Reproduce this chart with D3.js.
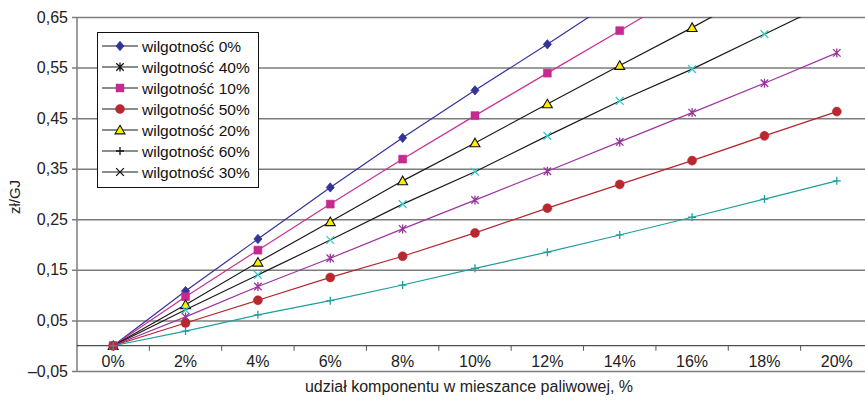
<!DOCTYPE html>
<html>
<head>
<meta charset="utf-8">
<script src="https://cdn.jsdelivr.net/npm/d3@7"></script>
<style>
  html, body { margin: 0; padding: 0; background: #fff; }
  svg { display: block; font-family: "Liberation Sans", Arial, sans-serif; }
</style>
</head>
<body>
<svg id="chart" width="865" height="401"></svg>
<script>
// Category axis: share of the component in the fuel blend
const categories = ["0%", "2%", "4%", "6%", "8%", "10%", "12%", "14%", "16%", "18%", "20%"];
const yTicks = [-0.05, 0.05, 0.15, 0.25, 0.35, 0.45, 0.55, 0.65];

// Cost increase (zł/GJ) for each moisture content of the component
const w0  = [0, 0.108, 0.211, 0.313, 0.411, 0.505, 0.596, 0.690, 0.785, 0.880, 0.975];
const w10 = [0, 0.097, 0.189, 0.280, 0.369, 0.455, 0.539, 0.623, 0.707, 0.790, 0.870];
const w20 = [0, 0.081, 0.165, 0.245, 0.326, 0.401, 0.478, 0.554, 0.629, 0.707, 0.782];
const w30 = [0, 0.071, 0.140, 0.209, 0.280, 0.344, 0.415, 0.484, 0.547, 0.616, 0.685];
const w40 = [0, 0.057, 0.117, 0.173, 0.231, 0.288, 0.345, 0.403, 0.461, 0.519, 0.579];
const w50 = [0, 0.045, 0.090, 0.135, 0.177, 0.223, 0.272, 0.319, 0.366, 0.415, 0.463];
const w60 = [0, 0.029, 0.061, 0.089, 0.120, 0.153, 0.185, 0.219, 0.254, 0.290, 0.326];

const seriesNames = ["wilgotność 0%", "wilgotność 10%", "wilgotność 20%", "wilgotność 30%",
                     "wilgotność 40%", "wilgotność 50%", "wilgotność 60%"];
const legendOrder = ["wilgotność 0%", "wilgotność 40%", "wilgotność 10%", "wilgotność 50%",
                     "wilgotność 20%", "wilgotność 60%", "wilgotność 30%"];
const seriesValues = [w0, w10, w20, w30, w40, w50, w60];

// Stroked marker shapes
const symPlus = { draw(ctx, size) { const r = Math.sqrt(size) / 2;
  ctx.moveTo(-r, 0); ctx.lineTo(r, 0); ctx.moveTo(0, -r); ctx.lineTo(0, r); } };
const symX = { draw(ctx, size) { const r = Math.sqrt(size) / 2;
  ctx.moveTo(-r, -r); ctx.lineTo(r, r); ctx.moveTo(-r, r); ctx.lineTo(r, -r); } };
const symStar = { draw(ctx, size) { const r = Math.sqrt(size) / 2;
  ctx.moveTo(-r, -r); ctx.lineTo(r, r); ctx.moveTo(-r, r); ctx.lineTo(r, -r);
  ctx.moveTo(0, -r * 1.2); ctx.lineTo(0, r * 1.2); } };
const symDiamond = { draw(ctx, size) { const r = Math.sqrt(size) / 2;
  ctx.moveTo(0, -r * 1.1); ctx.lineTo(r * 0.95, 0); ctx.lineTo(0, r * 1.1); ctx.lineTo(-r * 0.95, 0); ctx.closePath(); } };
const symTri = { draw(ctx, size) { const r = Math.sqrt(size) / 2;
  ctx.moveTo(0, -r * 1.05); ctx.lineTo(r * 1.1, r * 0.85); ctx.lineTo(-r * 1.1, r * 0.85); ctx.closePath(); } };

const styles = {
  "wilgotność 0%":  { line: "#333399", type: symDiamond,      size: 72, fill: "#333399", stroke: "#333399", sw: 0.8 },
  "wilgotność 10%": { line: "#cc2e96", type: d3.symbolSquare, size: 64, fill: "#c42a8f", stroke: "#c42a8f", sw: 0.5 },
  "wilgotność 20%": { line: "#1a1a1a", type: symTri,          size: 81, fill: "#ffee00", stroke: "#111",    sw: 1.1 },
  "wilgotność 30%": { line: "#1a1a1a", type: symX,            size: 60, fill: "none",    stroke: "#33cccc", sw: 1.3 },
  "wilgotność 40%": { line: "#a033a0", type: symStar,         size: 56, fill: "none",    stroke: "#993399", sw: 1.3 },
  "wilgotność 50%": { line: "#b5252b", type: d3.symbolCircle, size: 64, fill: "#b8282e", stroke: "#b8282e", sw: 0.5 },
  "wilgotność 60%": { line: "#1f9e9e", type: symPlus,         size: 64, fill: "none",    stroke: "#1f9e9e", sw: 1.3 }
};
const legendLine = "#1a1a1a";

const svg = d3.select("#chart");
const plotLeft = 77, plotRight = 873, plotTop = 17, plotBottom = 371;

const x = d3.scaleBand().domain(categories).range([plotLeft, plotRight]).padding(0);
const cx = c => x(c) + x.bandwidth() / 2;
const y = d3.scaleLinear().domain([-0.05, 0.65]).range([plotBottom, plotTop]);

svg.append("defs").append("clipPath").attr("id", "plot")
  .append("rect").attr("x", plotLeft).attr("y", plotTop)
  .attr("width", plotRight - plotLeft).attr("height", plotBottom - plotTop);

// Gridlines with y-axis ticks
const yAxis = d3.axisLeft(y).tickValues(yTicks).tickSize(-(plotRight - plotLeft)).tickSizeOuter(0)
  .tickFormat(d => d3.format(".2f")(d).replace(".", ",").replace("-", "\u2013").replace("\u2212", "\u2013"));
const gy = svg.append("g").attr("transform", `translate(${plotLeft},0)`).call(yAxis);
gy.select(".domain").remove();
gy.selectAll(".tick line").attr("stroke", "#7d7d7d").attr("stroke-width", 1.5).attr("x1", -5);
gy.selectAll(".tick text").attr("x", -9).attr("font-size", 16).attr("fill", "#222")
  .attr("font-family", "Liberation Sans, Arial, sans-serif");

// Vertical value axis line
svg.append("line").attr("x1", plotLeft).attr("x2", plotLeft).attr("y1", plotTop).attr("y2", plotBottom)
  .attr("stroke", "#7d7d7d").attr("stroke-width", 1.5);

// Category axis at zero, ticks at band boundaries
svg.append("line").attr("x1", plotLeft).attr("x2", plotRight).attr("y1", y(0)).attr("y2", y(0))
  .attr("stroke", "#222").attr("stroke-width", 1);
svg.append("g").selectAll("line").data(categories.slice(1)).join("line")
  .attr("x1", d => x(d)).attr("x2", d => x(d)).attr("y1", y(0)).attr("y2", y(0) + 5)
  .attr("stroke", "#555").attr("stroke-width", 1);
svg.append("g").selectAll("text").data(categories).join("text")
  .attr("x", d => cx(d)).attr("y", y(0) + 21).attr("text-anchor", "middle")
  .attr("font-size", 16).attr("fill", "#222").text(d => d);

// Series lines and markers
const plot = svg.append("g").attr("clip-path", "url(#plot)");
const line = d3.line().x((d, i) => cx(categories[i])).y(d => y(d));
seriesNames.forEach((name, k) => {
  const s = styles[name];
  plot.append("path").datum(seriesValues[k]).attr("d", line)
    .attr("fill", "none").attr("stroke", s.line).attr("stroke-width", 1.2);
});
seriesNames.forEach((name, k) => {
  const s = styles[name];
  const sym = d3.symbol().type(s.type).size(s.size);
  plot.append("g").selectAll("path").data(seriesValues[k]).join("path")
    .attr("transform", (d, i) => `translate(${cx(categories[i])},${y(d)})`)
    .attr("d", sym).attr("fill", s.fill).attr("stroke", s.stroke).attr("stroke-width", s.sw);
});

// Legend
const lg = svg.append("g");
lg.append("rect").attr("x", 97.5).attr("y", 32.5).attr("width", 161).attr("height", 155)
  .attr("fill", "#fff").attr("stroke", "#111").attr("stroke-width", 1);
legendOrder.forEach((name, i) => {
  const s = styles[name];
  const ry = 46 + i * 21;
  lg.append("line").attr("x1", 102).attr("x2", 138).attr("y1", ry).attr("y2", ry)
    .attr("stroke", legendLine).attr("stroke-width", 1.2);
  lg.append("path").attr("transform", `translate(120,${ry})`)
    .attr("d", d3.symbol().type(s.type).size(s.size)())
    .attr("fill", s.fill).attr("stroke", s.fill === "none" ? "#111" : s.stroke)
    .attr("stroke-width", s.sw);
  lg.append("text").attr("x", 142).attr("y", ry + 5.5).attr("font-size", 15.5).attr("fill", "#111").text(name);
});

// Axis titles
svg.append("text").attr("transform", "translate(20,197) rotate(-90)").attr("text-anchor", "middle")
  .attr("font-size", 15).attr("fill", "#222").text("zł/GJ");
svg.append("text").attr("x", 469).attr("y", 392).attr("text-anchor", "middle")
  .attr("font-size", 16).attr("fill", "#222").text("udział komponentu w mieszance paliwowej, %");
</script>
</body>
</html>
